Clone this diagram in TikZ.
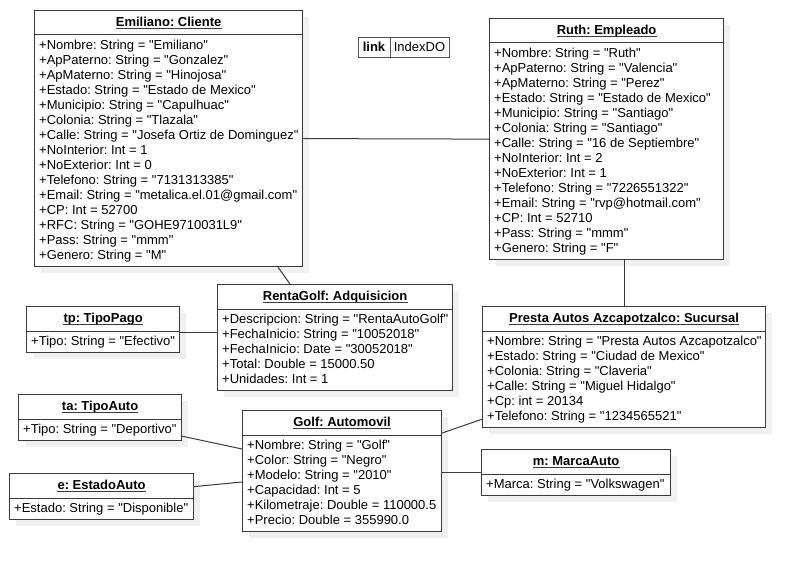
\documentclass[tikz,border=0pt]{standalone}
\usepackage{fontspec}
\setmainfont{Liberation Sans}[Ligatures=TeXOff]
\usetikzlibrary{calc}
\frenchspacing

\definecolor{edgec}{HTML}{3A3A3A}
\definecolor{shadec}{HTML}{F0F0F0}
\definecolor{linkc}{HTML}{505050}

\tikzset{
  objbox/.style={draw=edgec, line width=1.2bp, fill=white, rectangle, inner sep=0pt, anchor=north west},
  objshade/.style={fill=shadec},
  divline/.style={draw=edgec, line width=1bp},
  objtitle/.style={font=\fontsize{13bp}{15bp}\selectfont\bfseries, inner sep=0pt, anchor=base},
  objattr/.style={font=\fontsize{13bp}{15bp}\selectfont, inner sep=0pt, anchor=base west},
  underl/.style={draw=edgec, line width=0.9bp},
  assoc/.style={draw=edgec, line width=1bp},
}

% UML object: name, left, top, width, height, title, attribute list
\newcommand\umlobject[7]{%
  \fill[objshade] (#2+7,#3+7) rectangle ++(#4,#5);
  \node[objbox, minimum width=#4bp, minimum height=#5bp] (#1) at (#2,#3) {};
  \draw[divline] ($(#1.north west)+(0,25)$) -- ($(#1.north east)+(0,25)$);
  \node[objtitle] (#1-title) at ($(#1.north)+(0,16.7)$) {#6};
  \draw[underl] ($(#1-title.base west)+(0,2)$) -- ($(#1-title.base east)+(0,2)$);
  \foreach \attr [count=\k] in {#7}
    \node[objattr] (#1-a\k) at ($(#1.north west)+(5,24.5+15*\k)$) {\attr};
}

\begin{document}
\begin{tikzpicture}[x=1bp, y=-1bp]
  \useasboundingbox[fill=white] (0,0) rectangle (805,572);

  \umlobject{cli}{34}{10}{268}{256}{Emiliano: Cliente}{%
    +Nombre: String = "Emiliano",
    +ApPaterno: String = "Gonzalez",
    +ApMaterno: String = "Hinojosa",
    +Estado: String = "Estado de Mexico",
    +Municipio: String = "Capulhuac",
    +Colonia: String = "Tlazala",
    +Calle: String = "Josefa Ortiz de Dominguez",
    +NoInterior: Int = 1,
    +NoExterior: Int = 0,
    +Telefono: String = "7131313385",
    +Email: String = "metalica.el.01@gmail.com",
    +CP: Int = 52700,
    +RFC: String = "GOHE9710031L9",
    +Pass: String = "mmm",
    +Genero: String = "M"}

  \umlobject{rui}{489}{18}{234}{241}{Ruth: Empleado}{%
    +Nombre: String = "Ruth",
    +ApPaterno: String = "Valencia",
    +ApMaterno: String = "Perez",
    +Estado: String = "Estado de Mexico",
    +Municipio: String = "Santiago",
    +Colonia: String = "Santiago",
    +Calle: String = "16 de Septiembre",
    +NoInterior: Int = 2,
    +NoExterior: Int = 1,
    +Telefono: String = "7226551322",
    +Email: String = "rvp@hotmail.com",
    +CP: Int = 52710,
    +Pass: String = "mmm",
    +Genero: String = "F"}

  \umlobject{ren}{217}{284}{235}{106}{RentaGolf: Adquisicion}{%
    +Descripcion: String = "RentaAutoGolf",
    +FechaInicio: String = "10052018",
    +FechaInicio: Date = "30052018",
    +Total: Double = 15000.50,
    +Unidades: Int = 1}

  \umlobject{pre}{482}{306}{283}{121}{Presta Autos Azcapotzalco: Sucursal}{%
    +Nombre: String = "Presta Autos Azcapotzalco",
    +Estado: String = "Ciudad de Mexico",
    +Colonia: String = "Claveria",
    +Calle: String = "Miguel Hidalgo",
    +Cp: int = 20134,
    +Telefono: String = "1234565521"}

  \umlobject{tp}{26}{306}{153}{46}{tp: TipoPago}{%
    +Tipo: String = "Efectivo"}

  \umlobject{ta}{18}{394}{163}{46}{ta: TipoAuto}{%
    +Tipo: String = "Deportivo"}

  \umlobject{ea}{9}{473}{184}{46}{e: EstadoAuto}{%
    +Estado: String = "Disponible"}

  \umlobject{gol}{242}{410}{199}{121}{Golf: Automovil}{%
    +Nombre: String = "Golf",
    +Color: String = "Negro",
    +Modelo: String = "2010",
    +Capacidad: Int = 5,
    +Kilometraje: Double = 110000.5,
    +Precio: Double = 355990.0}

  \umlobject{mar}{481}{449}{189}{46}{m: MarcaAuto}{%
    +Marca: String = "Volkswagen"}

  % link label box
  \node[draw=linkc, line width=1bp, fill=white, minimum width=91bp, minimum height=20bp,
        anchor=north west, inner sep=0pt] (lnk) at (358,37) {};
  \draw[draw=linkc, line width=1bp] ($(lnk.north west)+(32,0)$) -- ($(lnk.south west)+(32,0)$);
  \node[objtitle] (lnk-key) at ($(lnk.north west)+(16,14.7)$) {link};
  \node[objattr, anchor=base] (lnk-val) at ($(lnk.north west)+(61.5,14.7)$) {IndexDO};

  % associations
  \draw[assoc] (cli.east) -- (rui.west);
  \draw[assoc] ($(cli.south west)+(244,0)$) -- ($(ren.north west)+(73,0)$);
  \draw[assoc] (pre.north) -- (pre.north |- rui.south);
  \draw[assoc] ($(tp.east)+(0,3)$) coordinate (tpx) -- (tpx -| ren.west);
  \draw[assoc] ($(ta.south east)+(0,-5)$) -- ($(gol.north west)+(0,39)$);
  \draw[assoc] ($(ea.east)+(0,-10)$) -- ($(gol.north west)+(0,72)$);
  \draw[assoc] ($(gol.north east)+(0,23)$) -- ($(pre.south west)+(0,-9)$);
  \draw[assoc] (gol.east |- mar.west) -- (mar.west);
\end{tikzpicture}
\end{document}
